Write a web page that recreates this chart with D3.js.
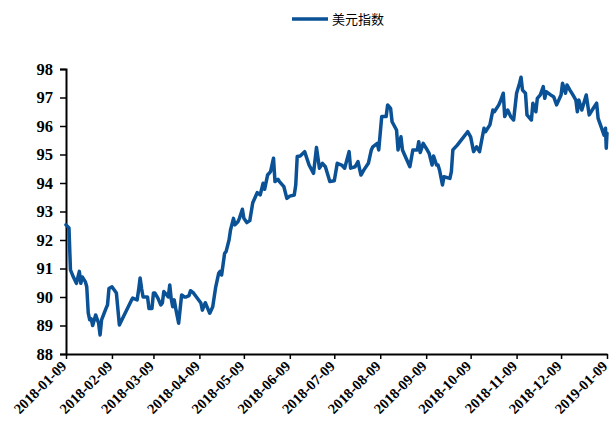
<!DOCTYPE html>
<html><head><meta charset="utf-8">
<script src="https://cdn.jsdelivr.net/npm/d3@7"></script>
<style>body{margin:0;background:#fff}svg{display:block}</style>
</head><body>
<script>
const seriesName = "美元指数";
const dates = ["2018-01-09","2018-01-11","2018-01-12","2018-01-14","2018-01-16","2018-01-18","2018-01-19","2018-01-20","2018-01-22","2018-01-23","2018-01-24","2018-01-25","2018-01-26","2018-01-27","2018-01-29","2018-01-31","2018-02-01","2018-02-02","2018-02-05","2018-02-06","2018-02-07","2018-02-09","2018-02-12","2018-02-14","2018-02-22","2018-02-23","2018-02-26","2018-02-27","2018-02-28","2018-03-01","2018-03-02","2018-03-05","2018-03-06","2018-03-08","2018-03-09","2018-03-10","2018-03-12","2018-03-14","2018-03-15","2018-03-16","2018-03-18","2018-03-19","2018-03-20","2018-03-21","2018-03-22","2018-03-23","2018-03-24","2018-03-26","2018-03-28","2018-03-30","2018-03-31","2018-04-02","2018-04-03","2018-04-05","2018-04-08","2018-04-10","2018-04-11","2018-04-13","2018-04-15","2018-04-16","2018-04-18","2018-04-20","2018-04-22","2018-04-23","2018-04-24","2018-04-26","2018-04-27","2018-04-29","2018-04-30","2018-05-02","2018-05-03","2018-05-05","2018-05-06","2018-05-08","2018-05-09","2018-05-11","2018-05-13","2018-05-15","2018-05-18","2018-05-20","2018-05-22","2018-05-23","2018-05-25","2018-05-27","2018-05-29","2018-05-30","2018-06-01","2018-06-02","2018-06-05","2018-06-07","2018-06-09","2018-06-12","2018-06-13","2018-06-14","2018-06-16","2018-06-19","2018-06-22","2018-06-25","2018-06-27","2018-06-29","2018-07-01","2018-07-03","2018-07-06","2018-07-09","2018-07-11","2018-07-14","2018-07-16","2018-07-19","2018-07-20","2018-07-23","2018-07-25","2018-07-27","2018-07-29","2018-08-01","2018-08-03","2018-08-04","2018-08-07","2018-08-08","2018-08-10","2018-08-13","2018-08-14","2018-08-16","2018-08-17","2018-08-20","2018-08-21","2018-08-23","2018-08-24","2018-08-26","2018-08-29","2018-08-31","2018-09-03","2018-09-04","2018-09-05","2018-09-07","2018-09-09","2018-09-11","2018-09-13","2018-09-14","2018-09-16","2018-09-17","2018-09-18","2018-09-20","2018-09-21","2018-09-25","2018-09-26","2018-09-27","2018-09-30","2018-10-07","2018-10-09","2018-10-11","2018-10-13","2018-10-15","2018-10-18","2018-10-19","2018-10-22","2018-10-24","2018-10-25","2018-10-28","2018-10-29","2018-10-31","2018-11-01","2018-11-03","2018-11-05","2018-11-07","2018-11-09","2018-11-11","2018-11-12","2018-11-13","2018-11-15","2018-11-16","2018-11-18","2018-11-19","2018-11-20","2018-11-22","2018-11-23","2018-11-25","2018-11-27","2018-11-28","2018-11-29","2018-12-02","2018-12-04","2018-12-06","2018-12-09","2018-12-10","2018-12-12","2018-12-13","2018-12-15","2018-12-17","2018-12-19","2018-12-20","2018-12-21","2018-12-23","2018-12-26","2018-12-28","2018-12-30","2019-01-02","2019-01-03","2019-01-05","2019-01-07","2019-01-08","2019-01-08T12","2019-01-09"];
const values = [92.53,92.42,90.95,90.7,90.48,90.9,90.48,90.7,90.54,90.36,89.44,89.2,89.23,89.0,89.37,89.08,88.67,89.2,89.6,89.72,90.3,90.36,90.14,89.02,89.87,89.96,89.9,90.25,90.67,90.3,90.0,90.0,89.6,89.6,90.14,90.14,89.96,89.72,89.79,90.19,90.07,90.0,90.42,89.93,89.66,89.9,89.6,89.08,90.07,90.0,90.0,90.05,90.22,90.14,89.93,89.79,89.54,89.8,89.55,89.43,89.66,90.35,90.83,90.9,90.77,91.53,91.59,92.0,92.35,92.76,92.53,92.64,92.76,93.08,92.76,92.61,92.68,93.31,93.66,93.58,93.99,93.78,94.28,94.4,94.87,94.05,94.13,94.05,93.87,93.46,93.54,93.58,93.93,94.93,94.95,95.1,94.63,94.34,95.25,94.52,94.69,94.57,94.05,94.08,94.69,94.63,94.52,95.1,94.52,94.57,94.75,94.28,94.46,94.69,95.16,95.27,95.39,95.16,96.33,96.33,96.74,96.62,96.15,95.86,95.16,95.62,95.16,94.92,94.57,95.16,95.16,95.45,95.07,95.39,95.22,95.04,94.63,94.95,94.63,94.63,94.46,93.93,94.22,94.16,94.4,95.16,95.33,95.8,95.62,95.1,95.27,95.1,95.92,95.8,96.04,96.56,96.5,96.74,96.86,97.15,96.33,96.56,96.33,96.21,97.15,97.5,97.71,97.26,97.15,96.39,96.27,96.21,96.8,96.5,96.97,97.09,97.38,96.97,97.2,97.09,97.03,96.74,97.09,97.5,97.15,97.44,97.26,97.09,96.91,96.5,96.91,96.56,97.09,96.39,96.56,96.8,96.27,95.98,95.68,95.92,95.22,95.75];
const xTickLabels = ["2018-01-09","2018-02-09","2018-03-09","2018-04-09","2018-05-09","2018-06-09","2018-07-09","2018-08-09","2018-09-09","2018-10-09","2018-11-09","2018-12-09","2019-01-09"];
const yTicks = [88,89,90,91,92,93,94,95,96,97,98];

const W = 610, H = 429;
const m = {left: 66, right: 3, top: 69, bottom: 75};
const parse = s => s.length > 10 ? d3.isoParse(s + ":00") : d3.timeParse("%Y-%m-%d")(s);
const data = dates.map((d, i) => ({date: parse(d), value: values[i]}));
const tickDates = xTickLabels.map(parse);

const svg = d3.select("body").append("svg").attr("width", W).attr("height", H);
const x = d3.scaleTime().domain([tickDates[0], tickDates[tickDates.length-1]]).range([m.left, W - m.right]);
const y = d3.scaleLinear().domain([88, 98]).range([H - m.bottom, m.top]);

const serif = "'Liberation Serif','Times New Roman',serif";

// Y axis
const gy = svg.append("g").attr("transform", `translate(${m.left},0)`)
  .call(d3.axisLeft(y).tickValues(yTicks).tickFormat(d3.format("d")).tickSize(6).tickPadding(7));
gy.select(".domain").attr("stroke", "#000").attr("stroke-width", 2);
gy.selectAll(".tick line").attr("stroke", "#000").attr("stroke-width", 1.5);
gy.selectAll(".tick text").attr("font-family", serif).attr("font-weight", "bold").attr("font-size", 16.5).attr("fill", "#000");

// X axis
const gx = svg.append("g").attr("transform", `translate(0,${H - m.bottom})`)
  .call(d3.axisBottom(x).tickValues(tickDates).tickFormat((d, i) => xTickLabels[i]).tickSize(5).tickSizeOuter(0));
gx.select(".domain").attr("stroke", "#000").attr("stroke-width", 2);
gx.selectAll(".tick line").attr("stroke", "#000").attr("stroke-width", 1.5);
gx.selectAll(".tick text")
  .attr("font-family", serif).attr("font-weight", "bold").attr("font-size", 14.5).attr("fill", "#000")
  .attr("text-anchor", "end").attr("dy", 0).attr("y", 0)
  .attr("transform", "translate(1,13) rotate(-45)");

// Line
const line = d3.line().x(d => x(d.date)).y(d => y(d.value));
svg.append("path").datum(data).attr("d", line)
  .attr("fill", "none").attr("stroke", "#0a5196").attr("stroke-width", 3.5)
  .attr("stroke-linejoin", "round").attr("stroke-linecap", "round");

// Legend
const lg = svg.append("g").attr("transform", "translate(292,19)");
lg.append("line").attr("x1", 0).attr("x2", 36).attr("y1", 0).attr("y2", 0)
  .attr("stroke", "#0a5196").attr("stroke-width", 3.5);
lg.append("text").attr("x", 40).attr("y", 4.5).text(seriesName)
  .attr("font-family", "'Noto Sans CJK SC',sans-serif").attr("font-size", 13).attr("fill", "#000");
</script>
</body></html>
